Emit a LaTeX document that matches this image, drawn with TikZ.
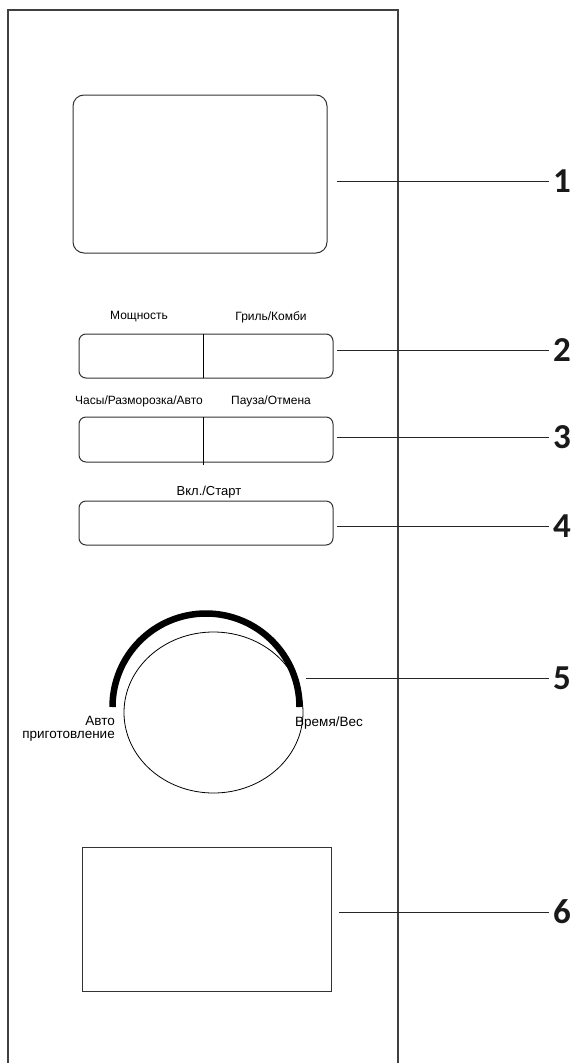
\documentclass[tikz,border=0pt]{standalone}
\usepackage{fontspec}
\setmainfont{Liberation Sans}
\newfontfamily\numfont{Carlito}
\begin{document}
\begin{tikzpicture}[x=1pt,y=-1pt,
  panelline/.style={draw=black!75, line width=1.2pt},
  btn/.style={draw=black!80, line width=1pt, rounded corners=7pt, inner sep=0pt},
  leader/.style={draw=black!85, line width=1pt},
  lbl/.style={font=\fontsize{12}{14}\selectfont, inner sep=0pt},
  knoblbl/.style={font=\fontsize{13.5}{13}\selectfont, inner sep=0pt},
  num/.style={font=\numfont\bfseries\fontsize{35}{35}\selectfont, inner sep=0pt, anchor=west, text=black!90}]
\useasboundingbox (0,0) rectangle (578,1063);
% panel
\draw[panelline] (8,1063) -- (8,10) -- (398,10) -- (398,1063);
% display
\node[btn, rounded corners=11pt, minimum width=254pt, minimum height=158pt] (disp) at (200,174) {};
% button rows
\node[btn, minimum width=254pt, minimum height=44pt] (b2) at (206,356) {};
\draw[line width=1pt] (203,334) -- (203,378);
\node[btn, minimum width=254pt, minimum height=45pt] (b3) at (206,439.5) {};
\draw[line width=1pt] (203,417) -- (203,465);
\node[btn, minimum width=254pt, minimum height=44pt] (b4) at (206,523) {};
% labels
\node[lbl] (l21) at (139,317) {Мощность};
\node[lbl] (l22) at (271,317) {Гриль/Комби};
\node[lbl] (l31) at (139,401) {Часы/Разморозка/Авто};
\node[lbl] (l32) at (271,401) {Пауза/Отмена};
\node[lbl, font=\fontsize{13}{14}\selectfont] (l4) at (209,492) {Вкл./Старт};
% knob
\draw[line width=0.8pt] (213.5,712.5) ellipse [x radius=89.5, y radius=80.5];
\node[inner sep=0pt, minimum size=0pt] (knob) at (213.5,712.5) {};
\draw[line width=6.5pt] (112.5,707) arc[start angle=180, end angle=360, radius=93.5];
\node[knoblbl, anchor=east, align=right] (kl) at (115,729) {Авто\\приготовление};
\node[knoblbl, anchor=west] (kr) at (295,723) {Время/Вес};
% rect 6
\node[draw=black!80, line width=1pt, minimum width=249pt, minimum height=144pt, inner sep=0pt] (r6) at (206.5,919) {};
% leaders and numbers
\node[num] (n1) at (553,181) {1};
\node[num] (n2) at (553,350) {2};
\node[num] (n3) at (553,437) {3};
\node[num] (n4) at (553,526) {4};
\node[num] (n5) at (553,678) {5};
\node[num] (n6) at (553,912) {6};
\coordinate (s1) at (337,181);
\coordinate (s2) at (337,350);
\coordinate (s3) at (337,437);
\coordinate (s4) at (337,526);
\coordinate (s5) at (306,678);
\coordinate (s6) at (339,912);
\foreach \i in {1,...,6} {\draw[leader] (s\i) -- ([xshift=-4pt]n\i.west);}
\end{tikzpicture}
\end{document}
